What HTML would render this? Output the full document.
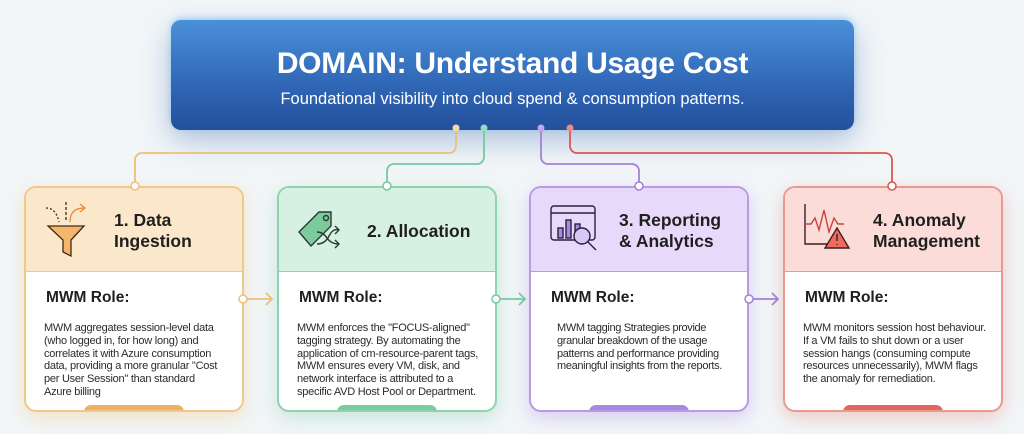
<!DOCTYPE html>
<html><head><meta charset="utf-8"><style>
*{margin:0;padding:0;box-sizing:border-box}
body{width:1024px;height:434px;background:#f2f6f8;font-family:"Liberation Sans",sans-serif;position:relative;overflow:hidden}
.hdr{position:absolute;left:171px;top:20px;width:683px;height:110px;border-radius:10px;background:linear-gradient(#4a90d9,#2f66b5 60%,#24509c);box-shadow:0 10px 30px rgba(40,90,170,.35),0 -2px 6px rgba(120,200,255,.6);color:#fff;text-align:center}
.hdr h1{font-size:30px;font-weight:bold;margin-top:27px;letter-spacing:-0.3px}
.hdr p{font-size:16.5px;margin-top:9px}
.card{position:absolute;top:186px;width:220px;height:226px;border:2px solid;border-radius:12px;background:#fff;overflow:hidden}
.card .top{height:84px;border-bottom:1.5px solid;position:relative}
.card .t{position:absolute;left:88px;font-size:17.5px;font-weight:bold;color:#1f1f1f;line-height:21px}
.card h3{font-size:15.5px;font-weight:bold;color:#1f1f1f;margin:17px 0 0 20px}
.card .b{font-size:11px;line-height:12.8px;letter-spacing:-0.25px;color:#2b2b2b;margin:15px 22px 0 18px}
.tab{position:absolute;bottom:-2px;left:58px;width:100px;height:7px;border-radius:8px 8px 0 0}
svg.ov{position:absolute;left:0;top:0;z-index:5}
</style></head><body>
<svg class="ov" width="1024" height="434">
<g fill="none" stroke-width="1.8">
<path d="M456 130 V146 a7 7 0 0 1 -7 7 H142 a7 7 0 0 0 -7 7 V182" stroke="#ecc07a"/>
<path d="M484 130 V157 a7 7 0 0 1 -7 7 H394 a7 7 0 0 0 -7 7 V182" stroke="#77c99c"/>
<path d="M541 130 V157 a7 7 0 0 0 7 7 H632 a7 7 0 0 1 7 7 V182" stroke="#a57fd9"/>
<path d="M570 130 V146 a7 7 0 0 0 7 7 H885 a7 7 0 0 1 7 7 V182" stroke="#d9574f"/>
<path d="M247 299 H272 M266 293 l6 6 -6 6" stroke="#ecc07a"/>
<path d="M500 299 H525 M519 293 l6 6 -6 6" stroke="#77c99c"/>
<path d="M753 299 H778 M772 293 l6 6 -6 6" stroke="#a57fd9"/>
</g>
<g stroke-width="1.5" fill="#fff">
<circle cx="135" cy="186" r="4" stroke="#ecc07a"/><circle cx="387" cy="186" r="4" stroke="#77c99c"/>
<circle cx="639" cy="186" r="4" stroke="#a57fd9"/><circle cx="892" cy="186" r="4" stroke="#d9574f"/>
<circle cx="243" cy="299" r="4" stroke="#ecc07a"/><circle cx="496" cy="299" r="4" stroke="#77c99c"/><circle cx="749" cy="299" r="4" stroke="#a57fd9"/>
</g>
<circle cx="456" cy="128" r="3.5" fill="#f6d9a0"/><circle cx="484" cy="128" r="3.5" fill="#8fe0bd"/>
<circle cx="541" cy="128" r="3.5" fill="#c0a5f0"/><circle cx="570" cy="128" r="3.5" fill="#f08a85"/>
</svg>
<div class="hdr"><h1>DOMAIN: Understand Usage Cost</h1><p>Foundational visibility into cloud spend &amp; consumption patterns.</p></div>

<div class="card" style="left:24px;border-color:#f0c98a;box-shadow:0 6px 18px rgba(240,190,110,.35)">
<div class="top" style="background:#fbe8cb;border-color:#f0c98a">
<svg style="position:absolute;left:18px;top:12px" width="50" height="60" viewBox="0 0 50 60" fill="none" stroke="#3a2a1a" stroke-width="1.3"><path d="M4 26 h36 l-13 14 v16 l-8 -4 v-12z" fill="#f4b56c"/><path d="M2 8 q10 0 13 14" stroke-dasharray="2 2"/><path d="M22 2 v20" stroke-dasharray="3 2"/><path d="M26 22 q0 -14 14 -14 M36 4 l5 4 -5 4" stroke="#e58a3c"/></svg>
<div class="t" style="top:22px">1. Data<br>Ingestion</div></div>
<h3>MWM Role:</h3>
<div class="b">MWM aggregates session-level data (who logged in, for how long) and correlates it with Azure consumption data, providing a more granular "Cost per User Session" than standard Azure billing</div>
<div class="tab" style="background:#eeb063"></div></div>

<div class="card" style="left:277px;border-color:#8fd3ae;box-shadow:0 6px 18px rgba(120,200,160,.35)">
<div class="top" style="background:#d6f1e1;border-color:#8fd3ae">
<svg style="position:absolute;left:18px;top:18px" width="52" height="50" viewBox="0 0 52 50" fill="none" stroke="#2a3a30" stroke-width="1.4"><path d="M2 26 L22 6 h12 v14 L14 40z" fill="#7ccb9e"/><circle cx="29" cy="12" r="2.5"/><path d="M20 26 q6 0 10 6 t12 6 M38 34 l4 4 -4 4 M20 38 q8 0 12 -8 t10 -6 M38 20 l4 4 -4 4"/></svg>
<div class="t" style="top:33px">2. Allocation</div></div>
<h3>MWM Role:</h3>
<div class="b" style="margin-right:14px">MWM enforces the "FOCUS-aligned" tagging strategy. By automating the application of cm-resource-parent tags, MWM ensures every VM, disk, and network interface is attributed to a specific AVD Host Pool or Department.</div>
<div class="tab" style="background:#7ccb9e"></div></div>

<div class="card" style="left:529px;border-color:#b89be6;box-shadow:0 6px 18px rgba(170,130,230,.35)">
<div class="top" style="background:#e6d9fa;border-color:#b89be6">
<svg style="position:absolute;left:18px;top:14px" width="52" height="60" viewBox="0 0 52 60" fill="none" stroke="#2a2040" stroke-width="1.4"><rect x="2" y="4" width="44" height="34" rx="3"/><path d="M2 11 h44"/><rect x="9" y="26" width="5" height="10" fill="#a98ae0"/><rect x="17" y="18" width="5" height="18" fill="#a98ae0"/><rect x="26" y="22" width="5" height="14" fill="#a98ae0"/><circle cx="33" cy="34" r="8" fill="#d8c8f6"/><path d="M39 40 l8 8"/></svg>
<div class="t" style="top:22px">3. Reporting<br>&amp; Analytics</div></div>
<h3>MWM Role:</h3>
<div class="b" style="margin-left:26px;margin-right:4px;letter-spacing:-0.35px">MWM tagging Strategies provide granular breakdown of the usage patterns and performance providing meaningful insights from the reports.</div>
<div class="tab" style="background:#a98ae0"></div></div>

<div class="card" style="left:783px;border-color:#e89a92;box-shadow:0 6px 18px rgba(230,120,110,.35)">
<div class="top" style="background:#fbdcd8;border-color:#e89a92">
<svg style="position:absolute;left:16px;top:14px" width="54" height="56" viewBox="0 0 54 56" fill="none" stroke="#3a2020" stroke-width="1.4"><path d="M4 2 v40 h28"/><path d="M4 22 l6 0 4 -6 4 12 5 -20 5 22 5 -14 4 6 6 0" stroke="#c8443c"/><path d="M36 26 l12 20 h-24z" fill="#ef6b62"/><path d="M36 32 v7 M36 42 v1"/></svg>
<div class="t" style="top:22px">4. Anomaly<br>Management</div></div>
<h3>MWM Role:</h3>
<div class="b" style="margin-right:14px">MWM monitors session host behaviour. If a VM fails to shut down or a user session hangs (consuming compute resources unnecessarily), MWM flags the anomaly for remediation.</div>
<div class="tab" style="background:#e3675d"></div></div>
</body></html>
